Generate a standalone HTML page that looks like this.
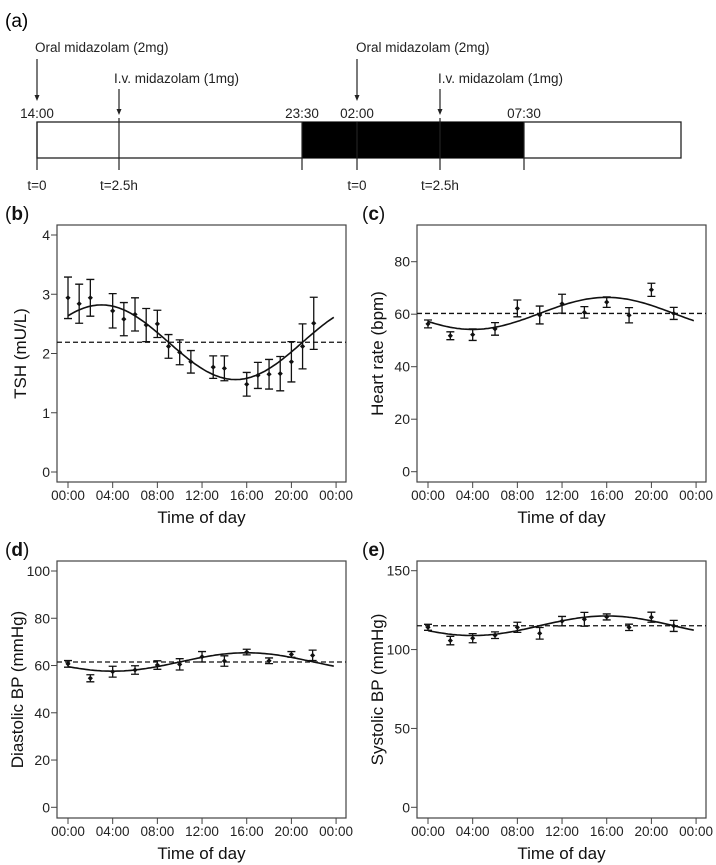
<!DOCTYPE html>
<html><head><meta charset="utf-8"><style>
html,body{margin:0;padding:0;background:#fff;}
svg{display:block;font-family:"Liberation Sans",Arial,sans-serif;}
</style></head><body>
<svg id="fig" width="716" height="865" viewBox="0 0 716 865">
<g id="timeline">
<text x="5" y="27" font-size="19">(a)</text>
<rect x="37" y="122" width="644" height="36" fill="#fff" stroke="#222" stroke-width="1.3"/>
<rect x="302" y="122" width="222" height="36" fill="#000"/>
<g stroke="#222" stroke-width="1.2">
<line x1="37" y1="122" x2="37" y2="170"/><line x1="119" y1="118" x2="119" y2="170"/>
<line x1="302" y1="122" x2="302" y2="170"/><line x1="357" y1="122" x2="357" y2="170"/>
<line x1="440" y1="118" x2="440" y2="170"/><line x1="524" y1="122" x2="524" y2="170"/>
<line x1="37" y1="59" x2="37" y2="96"/><line x1="119" y1="89" x2="119" y2="110"/>
<line x1="357" y1="59" x2="357" y2="96"/><line x1="440" y1="89" x2="440" y2="110"/>
</g>
<g fill="#222">
<polygon points="34.5,95 39.5,95 37,101"/><polygon points="116.5,109 121.5,109 119,115"/>
<polygon points="354.5,95 359.5,95 357,101"/><polygon points="437.5,109 442.5,109 440,115"/>
</g>
<g font-size="13.5" fill="#222">
<text x="35" y="52">Oral midazolam (2mg)</text>
<text x="114" y="83">I.v. midazolam (1mg)</text>
<text x="356" y="52">Oral midazolam (2mg)</text>
<text x="438" y="83">I.v. midazolam (1mg)</text>
<g text-anchor="middle">
<text x="37" y="118">14:00</text><text x="302" y="118">23:30</text><text x="357" y="118">02:00</text><text x="524" y="118">07:30</text>
<text x="37" y="190">t=0</text><text x="119" y="190">t=2.5h</text><text x="357" y="190">t=0</text><text x="440" y="190">t=2.5h</text>
</g></g>
</g>
</svg>
<script>
// Panel b: TSH
const tshHours=[0,1,2,4,5,6,7,8,9,10,11,13,14,16,17,18,19,20,21,22];
const tshMean=[2.94,2.84,2.94,2.72,2.58,2.66,2.48,2.50,2.12,2.02,1.86,1.77,1.75,1.48,1.63,1.65,1.66,1.86,2.12,2.51];
const tshErr=[0.35,0.33,0.31,0.29,0.28,0.28,0.28,0.23,0.20,0.21,0.19,0.19,0.21,0.20,0.22,0.25,0.29,0.34,0.38,0.44];
const tshFit=[2.19,0.63,3]; // mesor, amplitude, acrophase(h)
const tshTicks=[0,1,2,3,4];
// Panel c: heart rate
const hrHours=[0,2,4,6,8,10,12,14,16,18,20,22];
const hrMean=[56.3,51.8,52.2,54.4,62.2,59.7,64.0,60.7,64.6,59.6,69.3,60.3];
const hrErr=[1.5,1.5,2.2,2.4,3.2,3.4,3.6,2.2,2.0,2.9,2.5,2.3];
const hrFit=[60.3,6.1,16];
const hrTicks=[0,20,40,60,80];
// Panel d: diastolic BP
const dbpHours=[0,2,4,6,8,10,12,14,16,18,20,21.9];
const dbpMean=[60.7,54.6,57.4,58.1,60.2,60.5,63.7,61.9,65.7,62.0,64.7,64.3];
const dbpErr=[1.4,1.5,2.3,1.8,1.8,2.4,2.2,2.2,1.2,1.2,1.2,2.2];
const dbpFit=[61.5,3.9,16];
const dbpTicks=[0,20,40,60,80,100];
// Panel e: systolic BP
const sbpHours=[0,2,4,6,8,10,12,14,16,18,20,22];
const sbpMean=[114.1,105.7,107.2,109.1,114.1,110.3,118.0,119.2,120.7,114.1,120.5,115.0];
const sbpErr=[1.9,2.7,2.9,2.1,3.2,3.7,3.0,4.4,1.9,2.0,3.2,3.5];
const sbpFit=[115.1,6.2,16];
const sbpTicks=[0,50,100,150];
const xTickHours=[0,4,8,12,16,20,24];
const xTickLabels=["00:00","04:00","08:00","12:00","16:00","20:00","00:00"];

const NS="http://www.w3.org/2000/svg";
const svg=document.getElementById('fig');
function mk(tag,attrs,parent){const e=document.createElementNS(NS,tag);for(const k in attrs)e.setAttribute(k,attrs[k]);(parent||svg).appendChild(e);return e;}

function panel(o){
  const g=mk('g',{});
  
  
  const L=o.left,R=o.left+289,T=o.top,B=o.bottom;
  const x=h=>L+11+h*11.17;
  const y=v=>o.y0+(v-o.v0)*(o.y1-o.y0)/(o.v1-o.v0);
  const lab=mk('text',{x:o.lx,y:T-5,'font-size':19,fill:'#111'},g);
  lab.innerHTML='(<tspan font-weight="bold">'+o.letter+'</tspan>)';
  
  
  const box=mk('rect',{x:L,y:T,width:R-L,height:B-T,fill:'none',stroke:'#444','stroke-width':1.2},g);
  
  
  o.ticks.forEach(v=>{
    mk('line',{x1:L-6,x2:L,y1:y(v),y2:y(v),stroke:'#444','stroke-width':1},g);
    const t=mk('text',{x:L-7,y:y(v)+5,'font-size':14,'text-anchor':'end',fill:'#222'},g);
    t.textContent=v;
    
    
  });
  xTickHours.forEach((h,i)=>{
    mk('line',{x1:x(h),x2:x(h),y1:B,y2:B+6,stroke:'#444','stroke-width':1},g);
    const t=mk('text',{x:x(h),y:B+18,'font-size':13.5,'text-anchor':'middle',fill:'#222'},g);
    t.textContent=xTickLabels[i];
    
    
  });
  const xt=mk('text',{x:(L+R)/2,y:B+41,'font-size':17,'text-anchor':'middle',fill:'#111'},g);
  xt.textContent='Time of day';
  
  
  const yc=(T+B)/2;
  const yt=mk('text',{x:o.ytx,y:yc,'font-size':17,'text-anchor':'middle',fill:'#111',transform:'rotate(-90 '+o.ytx+' '+yc+')'},g);
  yt.textContent=o.ytitle;
  
  
  const [m,a,ph]=o.fit;
  const ml=mk('line',{x1:L,x2:R,y1:y(m),y2:y(m),stroke:'#111','stroke-width':1.3,'stroke-dasharray':'5,3'},g);
  
  
  let d='';
  for(let h=0;h<=23.8;h+=0.2){const v=m+a*Math.cos(2*Math.PI*(h-ph)/24);d+=(h===0?'M':'L')+x(h).toFixed(1)+','+y(v).toFixed(1);}
  const c=mk('path',{d:d,fill:'none',stroke:'#111','stroke-width':1.6},g);
  
  
  o.hours.forEach((h,i)=>{
    const px=x(h),v=o.mean[i],e=o.err[i];
    const eb=mk('path',{d:`M${px},${y(v+e)}V${y(v-e)}M${px-4},${y(v+e)}h8M${px-4},${y(v-e)}h8`,stroke:'#111','stroke-width':1.3,fill:'none'},g);
    
    
    const py=y(v);
    const p=mk('polygon',{points:`${px},${py-2.6} ${px+2.6},${py} ${px},${py+2.6} ${px-2.6},${py}`,fill:'#111'},g);
    
    
  });
}
panel({name:'tsh-panel',letter:'b',lx:5,left:57,top:225,bottom:482,y0:472,y1:235,v0:0,v1:4,ticks:tshTicks,ytitle:'TSH (mU/L)',ytx:26,hours:tshHours,mean:tshMean,err:tshErr,fit:tshFit});
panel({name:'heart-rate-panel',letter:'c',lx:362,left:417,top:225,bottom:482,y0:471.7,y1:261.7,v0:0,v1:80,ticks:hrTicks,ytitle:'Heart rate (bpm)',ytx:383,hours:hrHours,mean:hrMean,err:hrErr,fit:hrFit});
panel({name:'diastolic-bp-panel',letter:'d',lx:5,left:57,top:561,bottom:818,y0:807.3,y1:571,v0:0,v1:100,ticks:dbpTicks,ytitle:'Diastolic BP (mmHg)',ytx:23,hours:dbpHours,mean:dbpMean,err:dbpErr,fit:dbpFit});
panel({name:'systolic-bp-panel',letter:'e',lx:362,left:417,top:561,bottom:818,y0:807.3,y1:570.7,v0:0,v1:150,ticks:sbpTicks,ytitle:'Systolic BP (mmHg)',ytx:383,hours:sbpHours,mean:sbpMean,err:sbpErr,fit:sbpFit});
</script>
</body></html>
